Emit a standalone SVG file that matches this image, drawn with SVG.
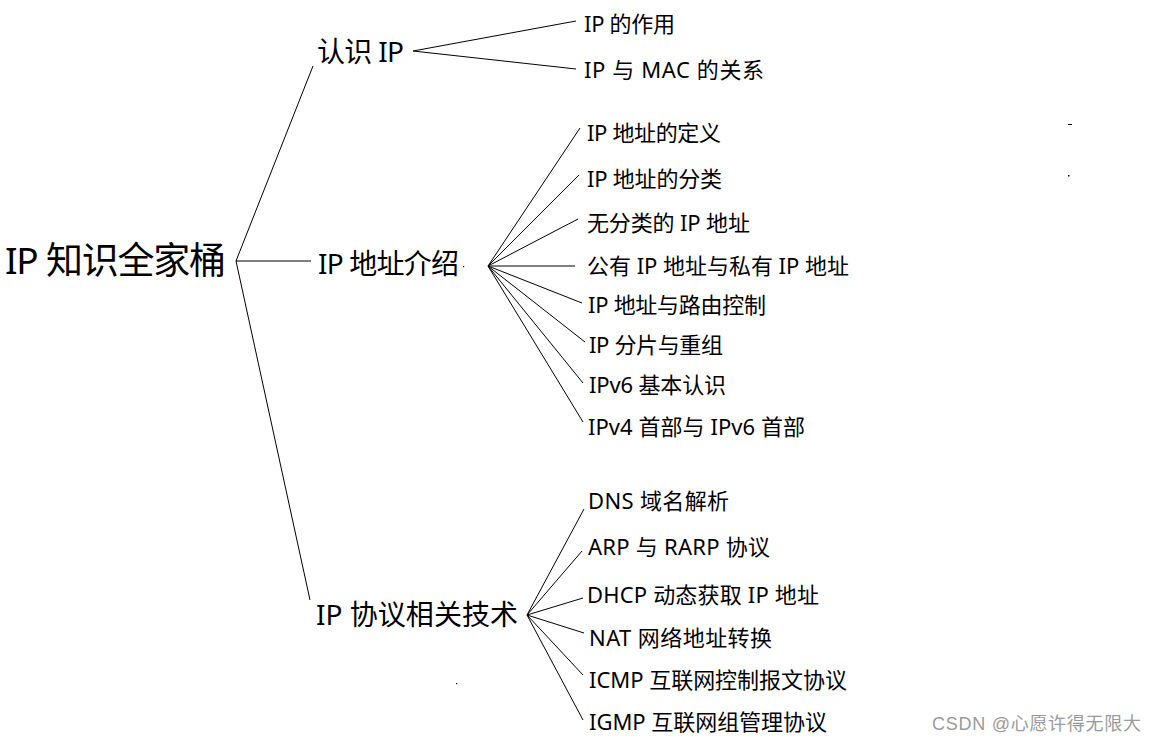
<svg xmlns="http://www.w3.org/2000/svg" width="1159" height="743" viewBox="0 0 1159 743">
<style>
text{font-family:"Noto Sans","Noto Sans CJK SC",sans-serif;fill:#000}
.root{font-size:37px}
.l1{font-size:28px}
.l2{font-size:22px}
.wm{font-family:"Liberation Sans","Noto Sans CJK SC",sans-serif;font-size:18px;fill:#9a9a9a}
.c{stroke:#000;stroke-width:1;fill:none}
</style>
<rect width="1159" height="743" fill="#fff"/>
<g id="connectors" class="c">
<path d="M236 261 L313 66 M236 261 L311 261 M236 261 L310 600"/>
<path d="M413 51 L576 21 M413 51 L576 69"/>
<path d="M488 266 L580 128 M488 266 L579 175 M488 266 L578 219 M488 266 L575 266 M488 266 L582 303 M488 266 L585 342 M488 266 L583 383 M488 266 L583 422"/>
<path d="M527 615 L584 509 M527 615 L582 551 M527 615 L583 598 M527 615 L584 633 M527 615 L583 675 M527 615 L583 720"/>
</g>
<g id="root"><text class="root" x="5" y="274" textLength="221">IP 知识全家桶</text></g>
<g id="n-renshi"><text class="l1" x="317" y="62" textLength="87">认识 IP</text></g>
<g id="n-dizhi"><text class="l1" x="318" y="274" textLength="141">IP 地址介绍</text><rect x="463" y="266" width="1.2" height="1.2" fill="#000"/></g>
<g id="n-xieyi"><text class="l1" x="316" y="625" textLength="202">IP 协议相关技术</text></g>
<g id="n-zuoyong"><text class="l2" x="584" y="32" textLength="91">IP 的作用</text></g>
<g id="n-mac"><text class="l2" x="584" y="78" textLength="180">IP 与 MAC 的关系</text></g>
<g id="n-dingyi"><text class="l2" x="587" y="141" textLength="134">IP 地址的定义</text></g>
<g id="n-fenlei"><text class="l2" x="587" y="187" textLength="135">IP 地址的分类</text></g>
<g id="n-wufenlei"><text class="l2" x="587" y="231" textLength="163">无分类的 IP 地址</text></g>
<g id="n-gongyou"><text class="l2" x="587" y="274" textLength="262">公有 IP 地址与私有 IP 地址</text></g>
<g id="n-luyou"><text class="l2" x="588" y="313" textLength="178">IP 地址与路由控制</text></g>
<g id="n-fenpian"><text class="l2" x="589" y="353" textLength="134">IP 分片与重组</text></g>
<g id="n-ipv6"><text class="l2" x="589" y="393" textLength="137">IPv6 基本认识</text></g>
<g id="n-shoubu"><text class="l2" x="588" y="435" textLength="217">IPv4 首部与 IPv6 首部</text></g>
<g id="n-dns"><text class="l2" x="588" y="509" textLength="141">DNS 域名解析</text></g>
<g id="n-arp"><text class="l2" x="588" y="555" textLength="182">ARP 与 RARP 协议</text></g>
<g id="n-dhcp"><text class="l2" x="587" y="603" textLength="232">DHCP 动态获取 IP 地址</text></g>
<g id="n-nat"><text class="l2" x="589" y="646" textLength="183">NAT 网络地址转换</text></g>
<g id="n-icmp"><text class="l2" x="589" y="688" textLength="258">ICMP 互联网控制报文协议</text></g>
<g id="n-igmp"><text class="l2" x="589" y="730" textLength="238">IGMP 互联网组管理协议</text></g>
<g id="marks" fill="#000">
<rect x="1068" y="124" width="4" height="1"/>
<rect x="1068" y="175" width="1.5" height="1.5"/>
<rect x="456" y="683" width="1.2" height="1.2"/>
</g>
<text class="wm" x="932" y="730" textLength="209">CSDN @心愿许得无限大</text>
</svg>
